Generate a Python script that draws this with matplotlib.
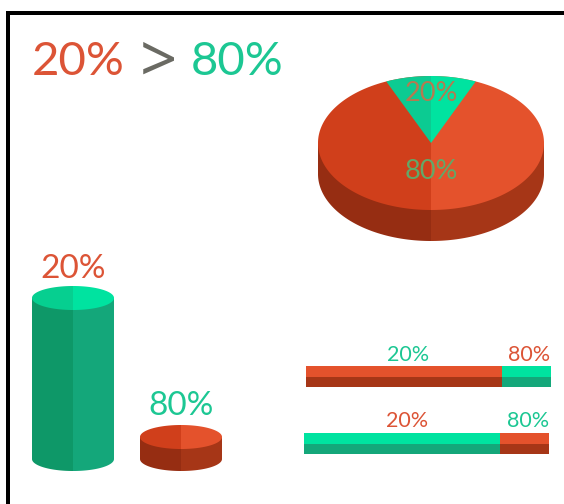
import numpy as np
import matplotlib
matplotlib.use("Agg")
import matplotlib.pyplot as plt
from matplotlib.patches import Rectangle

# Shares shown on every graphic
share_small = 20
share_large = 80
label_small = "20%"
label_large = "80%"
separator = ">"

# Relative cylinder heights
cylinder_values = [161, 22]
cylinder_labels = [label_small, label_large]

# Bar segments, left then right
bar_values = [share_large, share_small]

ORANGE = "#E4522C"
ORANGE_MID = "#D03F1B"
ORANGE_DARK = "#A63617"
ORANGE_DARKER = "#962D12"
GREEN = "#00E3A0"
GREEN_MID = "#0CCB92"
GREEN_SIDE = "#14A77A"
GREEN_DARK = "#0E9868"
TEXT_ORANGE = "#DC5436"
TEXT_GREEN = "#1CC793"
TEXT_GREY = "#6A6A63"
FONT = "Lato"

fig = plt.figure(figsize=(5.64, 5.04), dpi=100, facecolor="white")
ax = fig.add_axes([0, 0, 1, 1])
ax.set_xlim(0, 564)
ax.set_ylim(504, 0)
ax.axis("off")


def half_ellipse_points(cx, cy, rx, ry, start, stop, n=120):
    t = np.radians(np.linspace(start, stop, n))
    return cx + rx * np.cos(t), cy + ry * np.sin(t)


def solid_side(cx, top_y, rx, ry, depth, left_color, right_color):
    # Visible wall of an elliptical solid, split into shaded halves
    for start, stop, color in ((90, 180, left_color), (0, 90, right_color)):
        x, y = half_ellipse_points(cx, top_y + depth, rx, ry, start, stop)
        xt = cx + rx * np.cos(np.radians([stop, start]))
        yt = top_y + ry * np.sin(np.radians([stop, start]))
        ax.fill(np.r_[x, xt], np.r_[y, yt], color=color, lw=0)


def ellipse_top(cx, cy, rx, ry, left_color, right_color):
    for start, stop, color in ((90, 270, left_color), (-90, 90, right_color)):
        x, y = half_ellipse_points(cx, cy, rx, ry, start, stop, 200)
        ax.fill(x, y, color=color, lw=0)


def cylinder(cx, base_y, rx, ry, height, colors):
    top_y = base_y - height
    solid_side(cx, top_y, rx, ry, height, colors[0], colors[1])
    ellipse_top(cx, top_y, rx, ry, colors[2], colors[3])
    return top_y


def pie_3d(cx, cy, rx, ry, depth, share):
    solid_side(cx, cy, rx, ry, depth, ORANGE_DARKER, ORANGE_DARK)
    ellipse_top(cx, cy, rx, ry, ORANGE_MID, ORANGE)
    # The wedge opens symmetrically about the vertical, measured on the page
    half = np.radians(share / 100 * 360 / 2)
    edge = 1 / np.sqrt((np.sin(half) / rx) ** 2 + (np.cos(half) / ry) ** 2)
    tip_dx = edge * np.sin(half)
    tip_dy = edge * np.cos(half)
    end = np.degrees(np.arctan2(tip_dy / ry, tip_dx / rx))
    for start, stop, color in ((180 + end, 270, GREEN_MID), (270, 360 - end, GREEN)):
        x, y = half_ellipse_points(cx, cy, rx, ry, start, stop, 60)
        ax.fill(np.r_[cx, x], np.r_[cy, y], color=color, lw=0)


def stacked_bar(x0, y0, width, height, values, top_colors, low_colors):
    total = sum(values)
    left = x0
    for value, top, low in zip(values, top_colors, low_colors):
        w = width * value / total
        ax.add_patch(Rectangle((left, y0), w, height / 2, color=top, lw=0))
        ax.add_patch(Rectangle((left, y0 + height / 2), w, height / 2, color=low, lw=0))
        left += w


def label(x, y, text, color, size, family=FONT, weight="normal"):
    ax.text(x, y, text, color=color, fontsize=size, family=family, weight=weight,
            ha="center", va="baseline")


# Frame: top and left rules only
ax.add_patch(Rectangle((6, 11), 558, 4, color="black", lw=0))
ax.add_patch(Rectangle((6, 11), 4, 493, color="black", lw=0))

# Headline
label(78, 75, label_small, TEXT_ORANGE, 34)
label(158, 81.5, separator, TEXT_GREY, 47, family="Noto Sans", weight="light")
label(237, 75, label_large, TEXT_GREEN, 34)

# Pie
pie_3d(431, 143, 113, 67, 31, share_small)
label(431, 101, label_small, "#B57A50", 19.5)
label(431, 179, label_large, "#62A868", 19.5)

# Cylinders
cyl_green = (GREEN_DARK, GREEN_SIDE, "#06CF90", GREEN)
cyl_orange = (ORANGE_DARKER, ORANGE_DARK, ORANGE_MID, ORANGE)
cylinder(73, 459, 41, 12, cylinder_values[0], cyl_green)
cylinder(181, 459, 41, 12, cylinder_values[1], cyl_orange)
label(73, 278, cylinder_labels[0], TEXT_ORANGE, 24)
label(181, 415, cylinder_labels[1], TEXT_GREEN, 24)

# Stacked bars
stacked_bar(306, 366, 245, 21, bar_values, (ORANGE, GREEN), (ORANGE_DARK, GREEN_SIDE))
stacked_bar(304, 433, 245, 21, bar_values, (GREEN, ORANGE), (GREEN_SIDE, ORANGE_DARK))
label(408, 361, label_small, TEXT_GREEN, 15.5)
label(529, 361, label_large, TEXT_ORANGE, 15.5)
label(407, 427, label_small, TEXT_ORANGE, 15.5)
label(528, 427, label_large, TEXT_GREEN, 15.5)

fig.savefig("out.png", dpi=100, facecolor="white")
